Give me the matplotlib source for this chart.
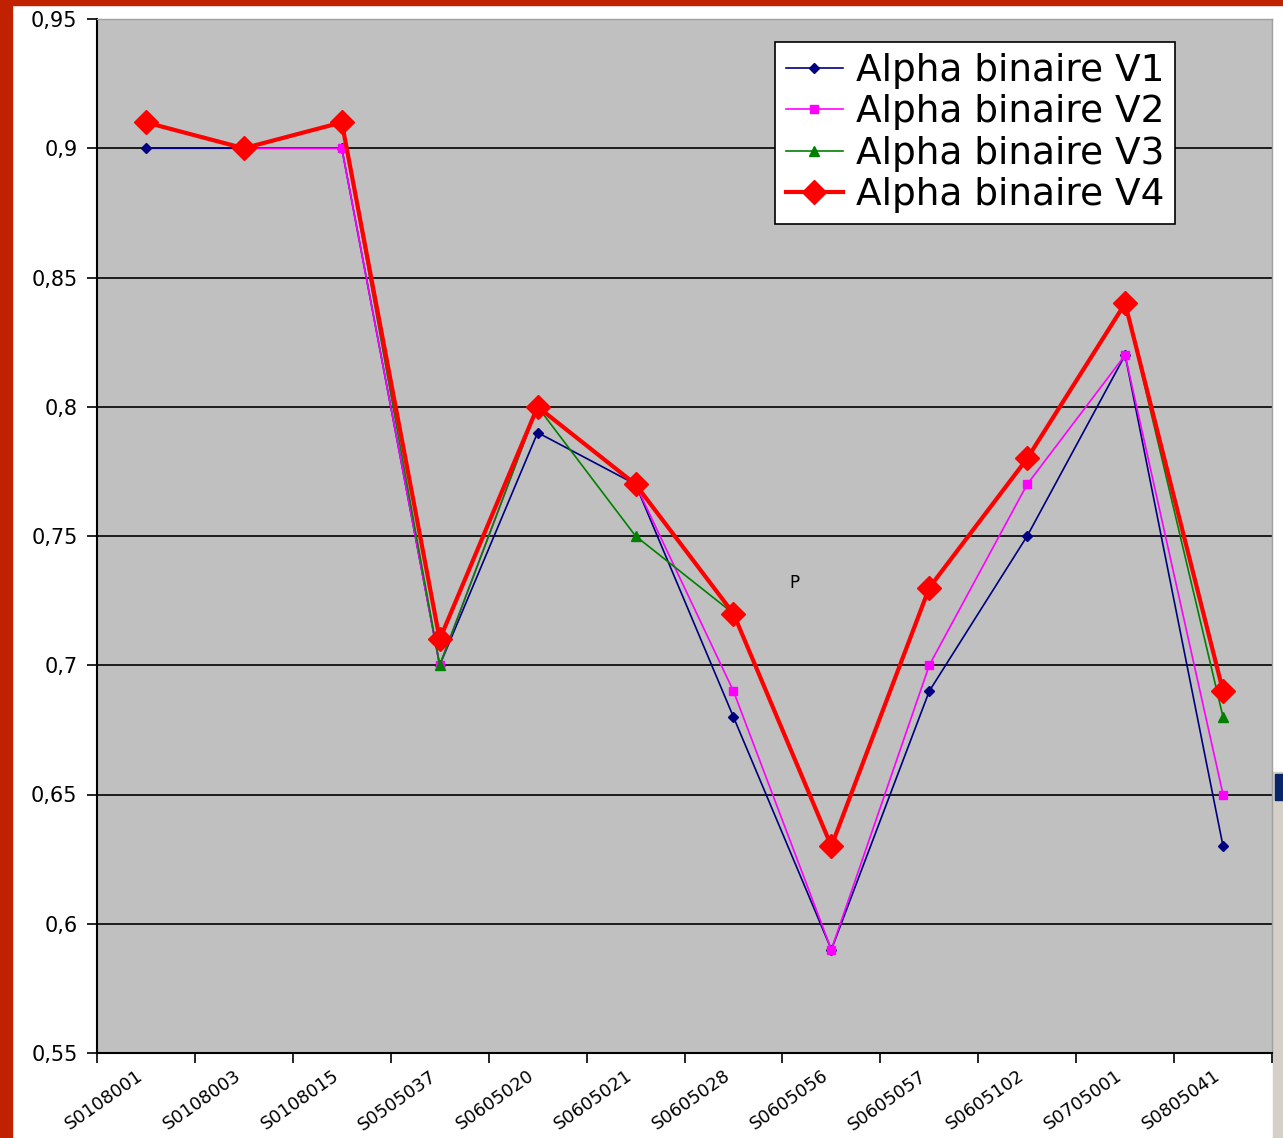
import matplotlib
matplotlib.use("Agg")
import matplotlib.pyplot as plt
from matplotlib.patches import Rectangle
from matplotlib.transforms import ScaledTranslation

plt.rcParams['font.family'] = ['DejaVu Sans']

categories = ['S0108001', 'S0108003', 'S0108015', 'S0505037', 'S0605020', 'S0605021',
              'S0605028', 'S0605056', 'S0605057', 'S0605102', 'S0705001', 'S0805041']
v1 = [0.90, 0.90, 0.90, 0.70, 0.79, 0.77, 0.68, 0.59, 0.69, 0.75, 0.82, 0.63]
v2 = [0.91, 0.90, 0.90, 0.70, 0.80, 0.77, 0.69, 0.59, 0.70, 0.77, 0.82, 0.65]
v3 = [0.91, 0.90, 0.91, 0.70, 0.80, 0.75, 0.72, 0.63, 0.73, 0.78, 0.84, 0.68]
v4 = [0.91, 0.90, 0.91, 0.71, 0.80, 0.77, 0.72, 0.63, 0.73, 0.78, 0.84, 0.69]
series_names = ['Alpha binaire V1', 'Alpha binaire V2', 'Alpha binaire V3', 'Alpha binaire V4']
yticks = [0.55, 0.6, 0.65, 0.7, 0.75, 0.8, 0.85, 0.9, 0.95]

W, H = 1283, 1138
fig = plt.figure(figsize=(W / 100, H / 100), dpi=100)
fig.patch.set_facecolor('white')

# screenshot frame: red strips left / top, window piece bottom right
fig.add_artist(Rectangle((0, 0), 12 / W, 1, transform=fig.transFigure, color='#c02200', zorder=0))
fig.add_artist(Rectangle((0, 1 - 5 / H), 1, 5 / H, transform=fig.transFigure, color='#c02200', zorder=0))
fig.add_artist(Rectangle((1273 / W, 0), 10 / W, (1138 - 772) / H, transform=fig.transFigure,
                         color='#d4d0c8', zorder=0))
fig.add_artist(Rectangle((1275 / W, (1138 - 800) / H), 8 / W, 26 / H, transform=fig.transFigure,
                         color='#0a246a', zorder=0))

ax = fig.add_axes([97 / W, 1 - 1053 / H, (1272 - 97) / W, (1053 - 19) / H])
ax.set_facecolor('#c0c0c0')

x = list(range(len(categories)))
ax.plot(x, v1, color='#000080', lw=1.2, marker='D', ms=5, label=series_names[0], zorder=3)
ax.plot(x, v2, color='#ff00ff', lw=1.2, marker='s', ms=6, label=series_names[1], zorder=4)
ax.plot(x, v3, color='#008000', lw=1.2, marker='^', ms=7, label=series_names[2], zorder=5)
ax.plot(x, v4, color='#ff0000', lw=3, marker='D', ms=12, label=series_names[3], zorder=6)

ax.set_xlim(-0.5, len(categories) - 0.5)
ax.set_ylim(0.55, 0.95)
ax.set_yticks(yticks)
ax.set_yticklabels([('%g' % t).replace('.', ',') for t in yticks], fontsize=15)
for t in yticks[1:-1]:
    ax.axhline(t, color='black', lw=1.2, zorder=1)

ax.set_xticks([i - 0.5 for i in range(len(categories) + 1)])
ax.set_xticklabels([])
ax.set_xticks(x, minor=True)
ax.set_xticklabels(categories, minor=True, rotation=35, ha='right', va='top',
                   rotation_mode='anchor', fontsize=13)
ax.tick_params(axis='x', which='minor', length=0, pad=10)
ax.tick_params(axis='y', which='major', pad=7)
ax.tick_params(axis='both', which='major', length=7, width=1.2, direction='out', color='black')
shift = ScaledTranslation(-10 / 100, 0, fig.dpi_scale_trans)
for lab in ax.get_xticklabels(minor=True):
    lab.set_transform(lab.get_transform() + shift)

for s in ['top', 'right']:
    ax.spines[s].set_color('#a0a0a0')
    ax.spines[s].set_linewidth(1)
for s in ['left', 'bottom']:
    ax.spines[s].set_color('black')
    ax.spines[s].set_linewidth(1.5)

ax.text(6.62, 0.732, 'P', fontsize=12, ha='center', va='center')

leg = ax.legend(loc='upper left', bbox_to_anchor=(775 / W, 1 - 42 / H), bbox_transform=fig.transFigure,
                borderaxespad=0, fontsize=27, fancybox=False, framealpha=1, edgecolor='black',
                handlelength=1.5, labelspacing=0.14, borderpad=0.3, handletextpad=0.35)
leg.get_frame().set_linewidth(1.2)

fig.savefig('out.png', dpi=100)
